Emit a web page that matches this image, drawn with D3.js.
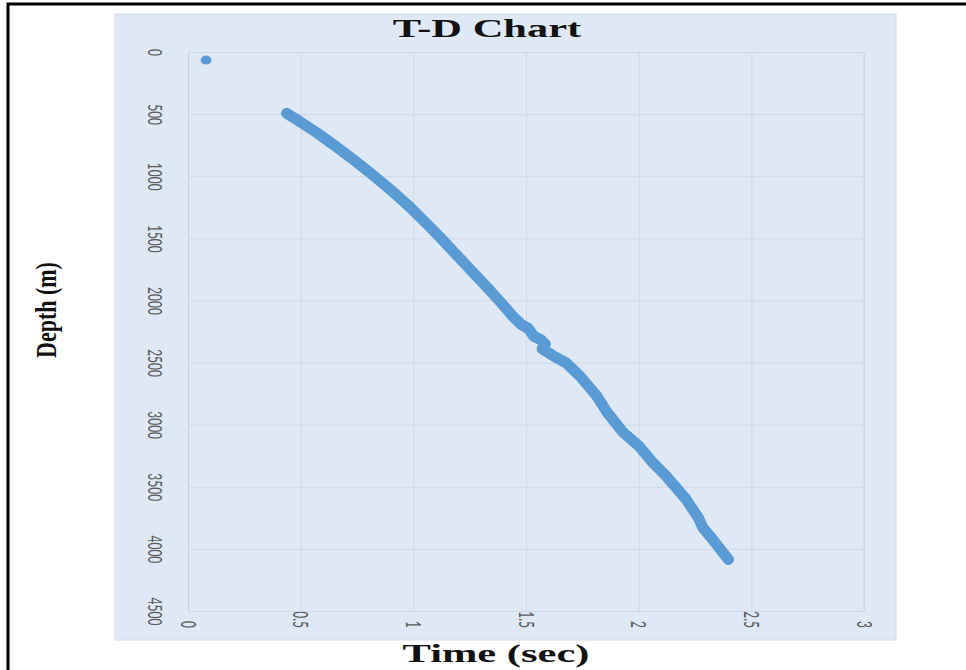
<!DOCTYPE html>
<html>
<head>
<meta charset="utf-8">
<script src="https://cdn.jsdelivr.net/npm/d3@7/dist/d3.min.js"></script>
<style>
  html, body { margin: 0; padding: 0; background: #ffffff; }
  svg { display: block; }
</style>
</head>
<body>
<svg id="chart" width="966" height="670"></svg>
<script>
// ---- Data ----
const timeSec = [0.08, 0.438, 0.50, 0.58, 0.66, 0.74, 0.82, 0.90, 0.98, 1.05, 1.12, 1.19, 1.26, 1.33, 1.39, 1.44, 1.48, 1.51, 1.535, 1.565, 1.585, 1.572, 1.62, 1.68, 1.74, 1.81, 1.86, 1.93, 2.00, 2.06, 2.12, 2.21, 2.265, 2.285, 2.32, 2.398];
const depthM  = [65, 494, 565, 660, 765, 875, 990, 1110, 1240, 1365, 1495, 1630, 1765, 1900, 2020, 2125, 2195, 2225, 2290, 2315, 2350, 2390, 2445, 2505, 2610, 2760, 2900, 3060, 3170, 3300, 3410, 3600, 3750, 3830, 3905, 4085];
const xTicks = [0, 0.5, 1, 1.5, 2, 2.5, 3];
const xTickLabels = ["0", "0.5", "1", "1.5", "2", "2.5", "3"];
const yTicks = [0, 500, 1000, 1500, 2000, 2500, 3000, 3500, 4000, 4500];
const yTickLabels = ["0", "500", "1000", "1500", "2000", "2500", "3000", "3500", "4000", "4500"];
const chartTitle = "T-D Chart";
const xTitle = "Time (sec)";
const yTitle = "Depth (m)";

// ---- Layout ----
const svg = d3.select("#chart");
const plot = { left: 188, right: 864, top: 52, bottom: 611 };
const x = d3.scaleLinear().domain([0, 3]).range([plot.left, plot.right]);
const y = d3.scaleLinear().domain([0, 4500]).range([plot.top, plot.bottom]);
const blue = "#5b9bd5";
const serif = "'Liberation Serif', 'DejaVu Serif', serif";
const sans = "Lato, 'Open Sans', 'Liberation Sans', sans-serif";

// Outer frame (cropped at right/bottom)
svg.append("rect").attr("x", 8).attr("y", 4).attr("width", 990).attr("height", 700)
  .attr("fill", "none").attr("stroke", "#000").attr("stroke-width", 3);

// Chart panel
svg.append("rect").attr("x", 115).attr("y", 14).attr("width", 781).attr("height", 626)
  .attr("fill", "#dfe9f5").attr("stroke", "#d3dbe5").attr("stroke-width", 1);

// Gridlines + axes
const gx = svg.append("g").attr("transform", `translate(0,${plot.bottom})`)
  .call(d3.axisBottom(x).tickValues(xTicks).tickFormat((d, i) => xTickLabels[i])
    .tickSize(-(plot.bottom - plot.top)).tickSizeOuter(0));
const gy = svg.append("g").attr("transform", `translate(${plot.left},0)`)
  .call(d3.axisLeft(y).tickValues(yTicks).tickFormat((d, i) => yTickLabels[i])
    .tickSize(-(plot.right - plot.left)).tickSizeOuter(0));

[gx, gy].forEach(g => {
  g.select(".domain").attr("stroke", "#c5ced9");
  g.selectAll(".tick line").attr("stroke", "#cfd8e3").attr("stroke-width", 1);
  g.selectAll(".tick text").attr("fill", "#595959").attr("font-family", sans)
    .attr("font-size", 12).attr("x", null).attr("y", null).attr("dy", null)
    .attr("dominant-baseline", "central");
});
gx.selectAll(".tick text").attr("text-anchor", "end")
  .attr("transform", "translate(0,17) scale(1.7,1) rotate(90)");
gy.selectAll(".tick text").attr("text-anchor", "middle")
  .attr("transform", "translate(-32,0) scale(1.6,1) rotate(90)");

// Plot border (right side)
svg.append("line").attr("x1", plot.right).attr("x2", plot.right).attr("y1", plot.top).attr("y2", plot.bottom)
  .attr("stroke", "#cfd8e3");

// Data
const pts = timeSec.map((t, i) => ({ t, d: depthM[i] }));
const line = d3.line().x(p => x(p.t)).y(p => y(p.d)).curve(d3.curveLinear);
svg.append("path").datum(pts.slice(1)).attr("d", line)
  .attr("fill", "none").attr("stroke", blue).attr("stroke-width", 11)
  .attr("stroke-linejoin", "round").attr("stroke-linecap", "round");
svg.append("g").selectAll("ellipse").data(pts).join("ellipse")
  .attr("cx", p => x(p.t)).attr("cy", p => y(p.d))
  .attr("rx", 5.5).attr("ry", 4.5).attr("fill", blue);

// Titles
svg.append("text").attr("transform", "translate(487,37) scale(1.7,1)")
  .attr("text-anchor", "middle").attr("font-family", serif).attr("font-weight", "bold")
  .attr("font-size", 25).attr("fill", "#111").text(chartTitle);
svg.append("text").attr("transform", "translate(496,662) scale(1.7,1)")
  .attr("text-anchor", "middle").attr("font-family", serif).attr("font-weight", "bold")
  .attr("font-size", 25).attr("fill", "#111").text(xTitle);
svg.append("text").attr("transform", "translate(56,310) scale(1.38,1) rotate(-90)")
  .attr("text-anchor", "middle").attr("font-family", serif).attr("font-weight", "bold")
  .attr("font-size", 22).attr("fill", "#111").text(yTitle);
</script>
</body>
</html>
